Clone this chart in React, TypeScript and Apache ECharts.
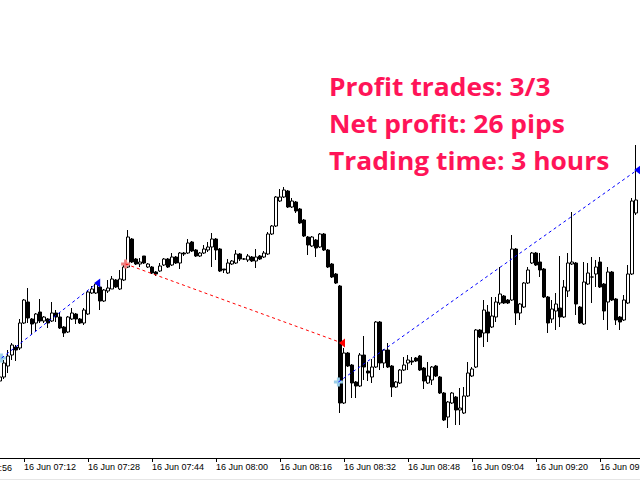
import React, { useEffect, useRef } from 'react';
import * as echarts from 'echarts';

// 1-minute candles, 16 Jun, starting 07:06
const START_MIN = 7 * 60 + 6;
const times: string[] = Array.from({ length: 161 }, (_, i) => {
  const m = START_MIN + i;
  return `${String(Math.floor(m / 60)).padStart(2, '0')}:${String(m % 60).padStart(2, '0')}`;
});

// [open, close, low, high] in points
const ohlc: (number[] | string)[] = [
  [99, 103, 87, 105], [103, 117, 101, 120], [114, 124, 107, 130], [125, 135, 120, 137],
  [133, 130, 119, 135], [132, 157, 130, 161], [157, 180, 156, 181], [178, 162, 157, 192],
  [161, 156, 145, 162], [157, 166, 149, 167], [168, 159, 157, 181], [159, 163, 157, 164],
  [161, 157, 152, 162], [159, 167, 158, 178], [167, 163, 158, 170], [163, 152, 151, 167],
  [153, 147, 143, 154], [148, 163, 147, 164], [161, 167, 160, 172], [166, 161, 156, 167],
  [161, 157, 156, 162], [157, 170, 155, 172], [166, 188, 165, 190], [187, 191, 186, 194],
  [187, 196, 186, 197], [193, 179, 170, 199], [179, 190, 178, 191], [189, 192, 187, 200],
  [191, 201, 191, 204], [200, 193, 192, 201], [191, 201, 190, 210], [200, 213, 199, 217],
  [213, 243, 212, 250], [241, 218, 217, 242], [221, 216, 215, 222], [216, 218, 213, 222],
  [224, 217, 216, 224], [213, 216, 212, 217], [213, 207, 206, 214], [208, 206, 204, 209],
  [209, 214, 208, 217], [215, 221, 214, 222], [221, 213, 212, 222], [215, 223, 214, 227],
  [223, 217, 216, 224], [217, 227, 211, 228], [227, 226, 224, 228], [227, 237, 226, 241],
  [238, 229, 228, 239], [230, 224, 223, 231], [224, 227, 223, 228], [227, 231, 226, 235],
  [230, 233, 228, 238], [233, 241, 213, 247], [241, 230, 220, 242], [231, 209, 208, 232],
  [211, 210, 207, 211], [207, 217, 206, 221], [216, 219, 215, 220], [217, 226, 216, 230],
  [226, 221, 219, 227], [221, 221, 220, 222], [220, 224, 218, 226], [223, 219, 218, 224],
  [219, 223, 212, 231], [224, 221, 220, 225], [223, 227, 222, 229], [226, 246, 225, 248],
  [246, 254, 245, 255], [254, 283, 253, 284], [279, 283, 278, 291], [283, 290, 282, 293],
  [289, 273, 272, 290], [273, 279, 272, 282], [278, 269, 267, 279], [271, 257, 256, 272],
  [260, 244, 243, 261], [243, 235, 225, 244], [234, 243, 233, 244], [240, 232, 223, 241],
  [233, 246, 232, 247], [246, 230, 229, 247], [230, 213, 212, 231], [216, 203, 202, 217],
  [206, 197, 196, 207], [194, 77, 67, 195], [77, 127, 76, 132], [127, 114, 113, 128],
  [115, 97, 82, 116], [98, 94, 82, 99], [94, 125, 93, 127], [125, 113, 100, 144],
  [109, 107, 99, 118], [103, 113, 97, 121], [113, 158, 112, 159], [158, 117, 110, 159],
  [117, 130, 112, 131], [130, 113, 112, 137], [114, 93, 83, 115], [93, 98, 92, 99],
  [97, 110, 96, 111], [110, 115, 109, 123], [117, 120, 110, 125], [119, 118, 115, 123],
  [122, 119, 118, 123], [124, 110, 109, 125], [112, 99, 91, 113], [97, 104, 96, 118],
  [100, 113, 95, 114], [114, 104, 103, 115], [103, 87, 86, 104], [87, 60, 59, 88],
  [63, 78, 52, 79], [77, 87, 76, 88], [83, 70, 55, 84], [70, 72, 55, 92],
  [67, 84, 66, 93], [84, 107, 83, 118], [104, 111, 103, 113], [113, 150, 112, 151],
  [150, 143, 142, 151], [147, 170, 133, 180], [168, 147, 138, 175], [153, 164, 152, 183],
  [163, 178, 158, 183], [177, 186, 175, 213], [184, 177, 176, 185], [180, 177, 176, 181],
  [180, 231, 179, 245], [231, 167, 155, 232], [167, 176, 160, 177], [173, 197, 172, 198],
  [197, 210, 196, 213], [217, 227, 216, 228], [227, 215, 214, 228], [218, 210, 203, 227],
  [211, 183, 182, 212], [183, 157, 147, 184], [161, 171, 157, 180], [169, 176, 150, 187],
  [172, 163, 153, 224], [163, 193, 162, 200], [189, 217, 183, 227], [216, 218, 215, 268],
  [217, 176, 165, 218], [173, 157, 156, 174], [156, 198, 155, 218], [196, 207, 195, 217],
  [203, 203, 177, 223], [206, 213, 193, 220], [218, 193, 192, 223], [196, 169, 160, 197],
  [178, 208, 150, 213], [208, 180, 179, 209], [181, 160, 155, 182], [163, 158, 150, 164],
  [160, 180, 159, 185], [177, 206, 176, 215], [206, 279, 205, 282], [267, 280, 265, 335],
  '-',
];

// trades: [candle index, price]
const buyTrade1 = [[0.4, 122], [24.3, 197]];
const sellTrade = [[31.4, 216], [85.5, 137]];
const buyTrade2 = [[84.6, 98], [159.3, 310]];
const buyEntries = [[0.4, 122], [84.6, 98]];
const sellEntries = [[31.4, 216]];
const buyExits = [[24.3, 197], [159.3, 310]];
const sellExits = [[85.5, 137]];

const infoLines = ['Profit trades: 3/3', 'Net profit: 26 pips', 'Trading time: 3 hours'];
const hiddenLeftLabel = '16 Jun 06:56';

const PLUS = 'path://M3,0h3v3h3v3h-3v3h-3v-3h-3v-3h3z';

export default function App() {
  const ref = useRef<HTMLDivElement>(null);
  useEffect(() => {
    const chart = echarts.init(ref.current!, undefined, { renderer: 'svg' });
    const labelFont = { fontFamily: 'Liberation Sans', fontSize: 9, color: '#000' };
    chart.setOption({
      animation: false,
      backgroundColor: '#ffffff',
      grid: { left: 0, right: 0, top: 0, bottom: 22, containLabel: false, outerBoundsMode: 'none' },
      xAxis: [
        {
          type: 'category',
          data: times,
          boundaryGap: false,
          axisLine: { lineStyle: { color: '#000', width: 1 } },
          axisTick: {
            interval: (i: number) => (i - 6) % 16 === 0,
            length: 4,
            lineStyle: { color: '#000' },
          },
          axisLabel: {
            interval: (i: number) => (i - 6) % 16 === 0,
            formatter: (v: string) => `16 Jun ${v}`,
            align: 'left',
            margin: 4,
            hideOverlap: false,
            ...labelFont,
          },
          splitLine: { show: false },
        },
        { type: 'value', min: 0, max: 160, show: false },
      ],
      yAxis: { type: 'value', min: 22, max: 480, show: false, splitLine: { show: false } },
      series: [
        {
          type: 'candlestick',
          data: ohlc,
          barWidth: 3,
          silent: true,
          itemStyle: {
            color: '#ffffff',
            color0: '#000000',
            borderColor: '#000000',
            borderColor0: '#000000',
            borderWidth: 1,
          },
        },
        ...[
          { d: buyTrade1, c: '#0000ff' },
          { d: sellTrade, c: '#ff0000' },
          { d: buyTrade2, c: '#0000ff' },
        ].map((t) => ({
          type: 'line',
          xAxisIndex: 1,
          data: t.d,
          symbol: 'none',
          silent: true,
          lineStyle: { color: t.c, width: 1, type: [3, 3] },
        })),
        {
          type: 'scatter', xAxisIndex: 1, data: buyEntries, symbol: PLUS, symbolSize: 9,
          itemStyle: { color: '#9ccfe8', opacity: 1 }, silent: true,
        },
        {
          type: 'scatter', xAxisIndex: 1, data: sellEntries, symbol: PLUS, symbolSize: 9,
          itemStyle: { color: '#f08080', opacity: 1 }, silent: true,
        },
        {
          type: 'scatter', xAxisIndex: 1, data: buyExits, symbol: 'triangle', symbolRotate: 90,
          symbolSize: [9, 6], itemStyle: { color: '#0000ff', opacity: 1 }, silent: true,
        },
        {
          type: 'scatter', xAxisIndex: 1, data: sellExits, symbol: 'triangle', symbolRotate: 90,
          symbolSize: [9, 6], itemStyle: { color: '#ff0000', opacity: 1 }, silent: true,
        },
      ],
      graphic: [
        ...infoLines.map((t, i) => ({
          type: 'text',
          x: 329,
          y: 74 + i * 37,
          scaleX: 1.055,
          style: {
            text: t,
            fill: '#ff1458',
            font: 'bold 25px "Open Sans"',
          },
        })),
        {
          type: 'text',
          x: -40,
          y: 463,
          style: { text: hiddenLeftLabel, fill: '#000', font: '9px "Liberation Sans"' },
        },
        { type: 'rect', shape: { x: 0, y: 479, width: 640, height: 1 }, style: { fill: '#e6e6e6' } },
      ],
    });
    return () => chart.dispose();
  }, []);
  return <div ref={ref} style={{ position: 'fixed', left: 0, top: 0, width: 640, height: 480 }} />;
}
